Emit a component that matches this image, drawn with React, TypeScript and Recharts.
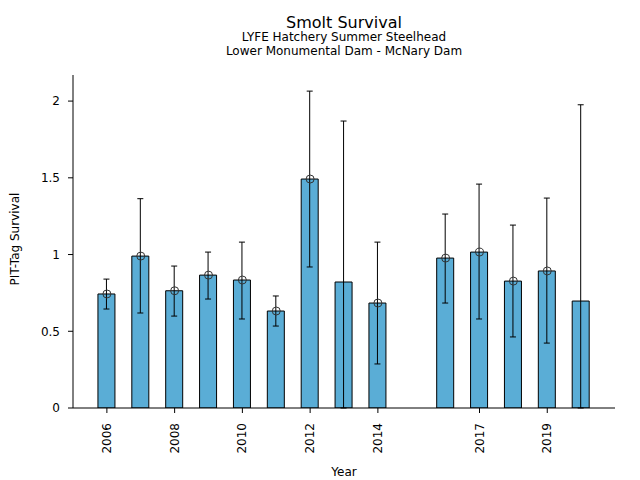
import React from 'react';
import { ComposedChart, Bar, Line, XAxis, YAxis, ErrorBar } from 'recharts';

// survival estimates per release year (2015 missing)
const years = [2006, 2007, 2008, 2009, 2010, 2011, 2012, 2013, 2014, 2016, 2017, 2018, 2019, 2020];
const survival = [0.743, 0.99, 0.764, 0.866, 0.834, 0.632, 1.492, 0.821, 0.684, 0.977, 1.016, 0.827, 0.893, 0.697];
const lower = [0.645, 0.619, 0.599, 0.71, 0.58, 0.534, 0.919, 0, 0.287, 0.684, 0.58, 0.463, 0.423, 0];
const upper = [0.84, 1.364, 0.925, 1.016, 1.081, 0.73, 2.065, 1.87, 1.081, 1.264, 1.459, 1.192, 1.368, 1.976];
const showPoint = [true, true, true, true, true, true, true, false, true, true, true, true, true, false];

const xTicks = [2006, 2008, 2010, 2012, 2014, 2017, 2019];
const yTicks = [0, 0.5, 1, 1.5, 2];

const data = years.map((year, i) => ({
  year,
  survival: survival[i],
  point: showPoint[i] ? survival[i] : null,
  err: [survival[i] - lower[i], upper[i] - survival[i]],
}));

const FONT = 'DejaVu Sans, sans-serif';

const RotatedTick = (props: any) => {
  const { x, y, payload } = props;
  return (
    <text
      x={x}
      y={y + 8}
      transform={`rotate(-90, ${x}, ${y + 8})`}
      textAnchor="end"
      dominantBaseline="central"
      fontSize={12}
      fontFamily={FONT}
      fill="#000"
    >
      {payload.value}
    </text>
  );
};

const OpenDot = (props: any) => {
  const { cx, cy, payload, index } = props;
  if (payload.point == null || cy == null) return <g key={index} />;
  return <circle key={index} cx={cx} cy={cy} r={4} fill="none" stroke="#333" strokeWidth={1} />;
};

export default function App() {
  return (
    <div style={{ position: 'absolute', left: 0, top: 0, width: 640, height: 480, fontFamily: FONT, background: '#fff' }}>
      <div style={{ position: 'absolute', top: 14.5, width: 640, left: 24, textAlign: 'center', fontSize: 16, lineHeight: '15px' }}>
        Smolt Survival
      </div>
      <div style={{ position: 'absolute', top: 30, width: 640, left: 24, textAlign: 'center', fontSize: 12, lineHeight: '14px' }}>
        LYFE Hatchery Summer Steelhead
        <br />
        Lower Monumental Dam - McNary Dam
      </div>
      <div
        style={{
          position: 'absolute',
          left: 15,
          top: 239,
          fontSize: 12,
          whiteSpace: 'nowrap',
          transform: 'translate(-50%, -50%) rotate(-90deg)',
        }}
      >
        PIT-Tag Survival
      </div>
      <div style={{ position: 'absolute', top: 464.5, left: 24, width: 640, textAlign: 'center', fontSize: 12 }}>
        Year
      </div>
      <ComposedChart
        width={640}
        height={480}
        data={data}
        margin={{ top: 75, right: 25, bottom: 0, left: 0 }}
        style={{ position: 'absolute', left: 0, top: 0 }}
      >
        <XAxis
          dataKey="year"
          type="number"
          domain={[2005, 2021]}
          ticks={xTicks}
          interval={0}
          height={72}
          stroke="#000"
          tickSize={5}
          tick={<RotatedTick />}
          allowDataOverflow
        />
        <YAxis
          type="number"
          domain={[0, 2.17]}
          ticks={yTicks}
          width={73}
          stroke="#000"
          tickSize={5}
          tickMargin={8}
          tick={{ fill: '#000', fontSize: 12, fontFamily: FONT }}
          allowDataOverflow
        />
        <Bar dataKey="survival" fill="#5AADD6" stroke="#000" strokeWidth={1} barSize={17} isAnimationActive={false}>
          <ErrorBar dataKey="err" width={3} stroke="#000" strokeWidth={1} direction="y" />
        </Bar>
        <Line
          dataKey="point"
          stroke="none"
          dot={<OpenDot />}
          activeDot={false}
          isAnimationActive={false}
          connectNulls={false}
        />
      </ComposedChart>
    </div>
  );
}
